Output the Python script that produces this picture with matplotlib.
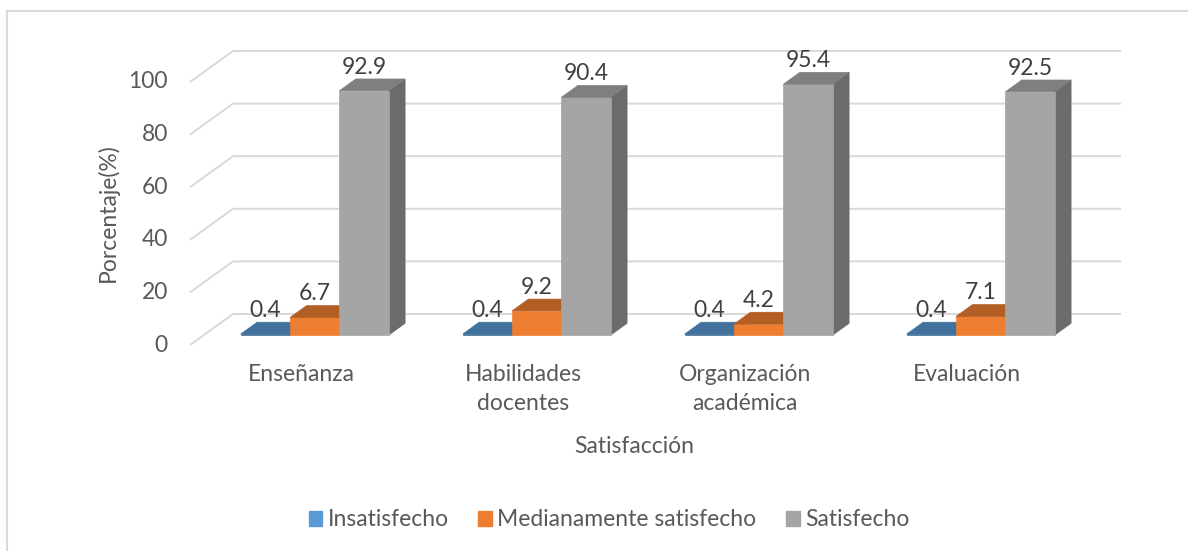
import numpy as np
import matplotlib
matplotlib.use('Agg')
from matplotlib import pyplot as plt
from matplotlib.patches import Polygon, Rectangle, Patch

plt.rcParams['font.family'] = ['Lato', 'DejaVu Sans']

categories = ['Enseñanza', 'Habilidades\ndocentes', 'Organización\nacadémica', 'Evaluación']
series_names = ['Insatisfecho', 'Medianamente satisfecho', 'Satisfecho']
insatisfecho = [0.4, 0.4, 0.4, 0.4]
medianamente = [6.7, 9.2, 4.2, 7.1]
satisfecho = [92.9, 90.4, 95.4, 92.5]
y_ticks = [0, 20, 40, 60, 80, 100]
x_title = 'Satisfacción'
y_title = 'Porcentaje(%)'

# face colours: front, top, side, legend
front_cols = ['#41719C', '#ED7D31', '#A5A5A5']
top_cols = ['#41719C', '#B35E24', '#7F7F7F']
side_cols = ['#31557A', '#A45A1F', '#6B6B6B']
legend_cols = ['#5B9BD5', '#ED7D31', '#A5A5A5']
grid_col = '#D9D9D9'
text_col = '#595959'
label_col = '#404040'
FS = 16.5

# fake 3d geometry (x in category units, y in percent)
DX, DY = 0.1937, 11.79      # full floor depth
D_FRONT, D_BACK = 0.32, 0.70  # bar front / back depth fraction
GAP = 0.1667
W = (1 - 2 * GAP) / 3

W_PX, H_PX = 1188, 551
fig = plt.figure(figsize=(W_PX / 100, H_PX / 100), dpi=100)
ax = fig.add_axes([0, 0, 1, 1])
ax.set_xlim(-190 / 222, (W_PX - 190) / 222)
ax.set_ylim((345 - H_PX) / 2.63, 345 / 2.63)
ax.axis('off')

n = len(categories)

# gridlines: diagonal on the side, then along the back wall
for v in y_ticks:
    ax.plot([0, DX, n + DX], [v, v + DY, v + DY], color=grid_col, lw=1.4, zorder=1,
            solid_capstyle='butt')
    ax.text(-0.1, v, str(v), ha='right', va='center', fontsize=FS, color=text_col)

values = [insatisfecho, medianamente, satisfecho]
dx_bar = DX * (D_BACK - D_FRONT)
dy_bar = DY * (D_BACK - D_FRONT)
base = D_FRONT * DY
z = 2
for i in range(n):
    for j, vals in enumerate(values):
        v = vals[i]
        x0 = i + GAP + j * W + D_FRONT * DX
        x1 = x0 + W
        top = base + v
        side = Polygon([(x1, base), (x1 + dx_bar, base + dy_bar),
                        (x1 + dx_bar, top + dy_bar), (x1, top)],
                       closed=True, facecolor=side_cols[j], edgecolor=side_cols[j],
                       lw=0.5, zorder=z)
        ax.add_patch(side)
        ax.bar(x0, v, width=W, bottom=base, align='edge', color=front_cols[j],
               edgecolor=front_cols[j], lw=0.5, zorder=z + 1)
        lid = Polygon([(x0, top), (x1, top), (x1 + dx_bar, top + dy_bar),
                       (x0 + dx_bar, top + dy_bar)],
                      closed=True, facecolor=top_cols[j], edgecolor=top_cols[j],
                      lw=0.5, zorder=z + 2)
        ax.add_patch(lid)
        ax.text((x0 + x1) / 2, top + dy_bar + 2.0, '{:.1f}'.format(v), ha='center',
                va='baseline', fontsize=FS, color=label_col, zorder=10)
        z += 3

for i, cat in enumerate(categories):
    ax.text(i + 0.5, -7.2, cat, ha='center', va='top', fontsize=FS, color=text_col,
            linespacing=1.5)

ax.text(n / 2, -38.6, x_title, ha='center', va='center', fontsize=FS, color=text_col)
ax.text(-0.369, 50.2, y_title, ha='center', va='center', rotation=90, fontsize=FS,
        color=text_col)

handles = [Patch(facecolor=c, edgecolor=c) for c in legend_cols]
fig.legend(handles, series_names, loc='center', bbox_to_anchor=(609 / W_PX, 1 - 520 / H_PX),
           ncol=3, frameon=False, fontsize=FS, handlelength=0.6, handleheight=0.6,
           handletextpad=0.22, columnspacing=1.3, labelcolor=text_col)

# chart area border
fig.add_artist(Rectangle((7 / W_PX, -0.1), 1.2, 1.1 - 11 / H_PX, transform=fig.transFigure,
                         fill=False, edgecolor='#D9D9D9', lw=1.5))

fig.savefig('out.png', dpi=100, facecolor='white')
